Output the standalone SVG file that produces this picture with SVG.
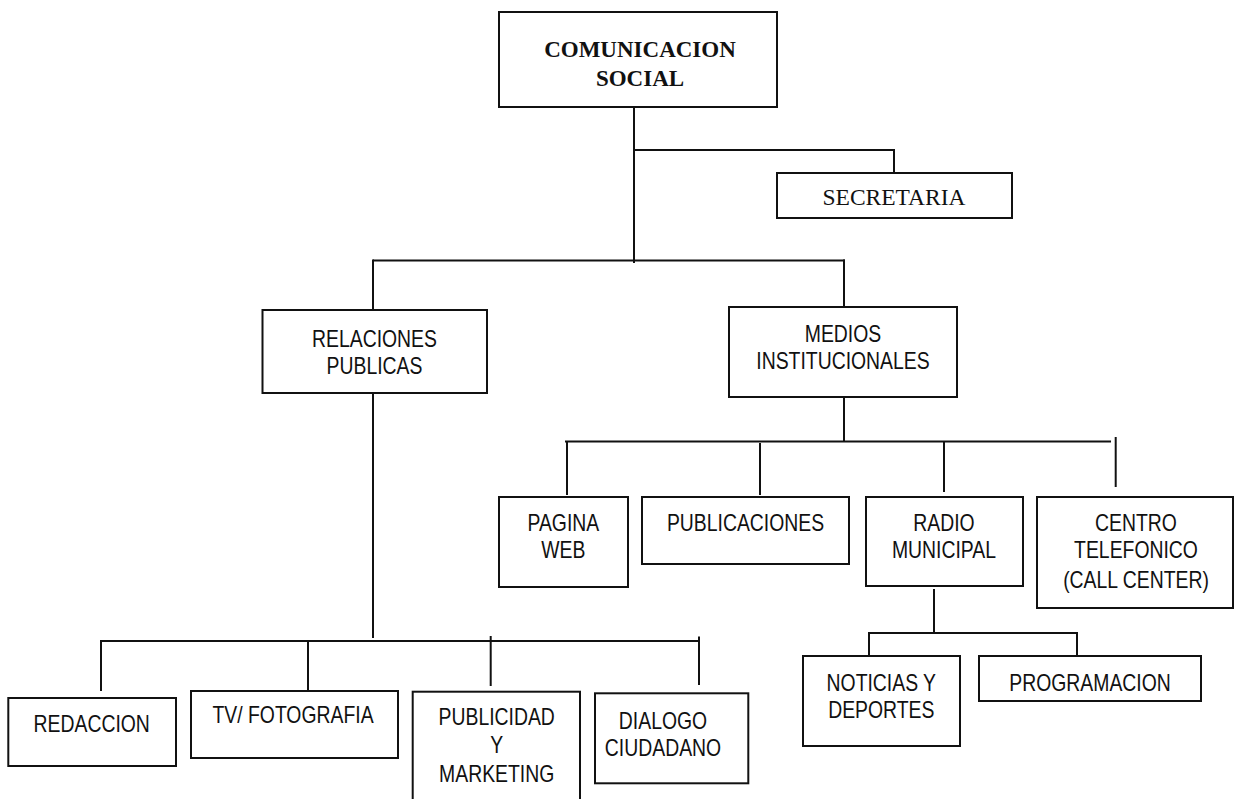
<svg xmlns="http://www.w3.org/2000/svg" width="1235" height="799" viewBox="0 0 1235 799">
<style>
rect{fill:#fff;stroke:#111;stroke-width:2}
.c line{stroke:#111;stroke-width:2}
.n{font-family:"Liberation Sans",Arial,sans-serif;font-size:23.5px;fill:#111;text-anchor:middle}
.s{font-family:"Liberation Serif","Times New Roman",serif;font-size:23.5px;fill:#111;text-anchor:middle}
.b{font-family:"Liberation Serif","Times New Roman",serif;font-size:23px;font-weight:bold;fill:#111;text-anchor:middle}
</style>
<rect x="0" y="0" width="1235" height="799" style="fill:#fff;stroke:none"/>
<g class="c" id="connectors">
<line x1="634" y1="107" x2="634" y2="263"/>
<line x1="634" y1="150" x2="894" y2="150"/>
<line x1="894" y1="149" x2="894" y2="173"/>
<line x1="373" y1="260.5" x2="845" y2="260.5"/>
<line x1="373" y1="259.5" x2="373" y2="310"/>
<line x1="844" y1="259.5" x2="844" y2="307"/>
<line x1="373" y1="393" x2="373" y2="638"/>
<line x1="100" y1="641" x2="700" y2="641"/>
<line x1="101" y1="640" x2="101" y2="691"/>
<line x1="308" y1="640" x2="308" y2="690"/>
<line x1="490.7" y1="636" x2="490.7" y2="686"/>
<line x1="699" y1="636.5" x2="699" y2="685"/>
<line x1="844" y1="397" x2="844" y2="442"/>
<line x1="565" y1="441.5" x2="1111" y2="441.5"/>
<line x1="567" y1="441" x2="567" y2="495"/>
<line x1="760" y1="443" x2="760" y2="495"/>
<line x1="944" y1="441" x2="944" y2="492"/>
<line x1="1115.7" y1="437" x2="1115.7" y2="487"/>
<line x1="934" y1="589" x2="934" y2="633"/>
<line x1="868" y1="633" x2="1078" y2="633"/>
<line x1="869" y1="632" x2="869" y2="656"/>
<line x1="1077" y1="632" x2="1077" y2="656"/>
</g>
<g id="comunicacion-social">
<rect x="499" y="12" width="278" height="95"/>
<text class="b" x="640" y="57">COMUNICACION</text>
<text class="b" x="640" y="86">SOCIAL</text>
</g>
<g id="secretaria">
<rect x="777" y="173" width="235" height="45"/>
<text class="s" x="894" y="205">SECRETARIA</text>
</g>
<g id="relaciones-publicas">
<rect x="262.5" y="310" width="224.5" height="83"/>
<text class="n" transform="translate(374.5,0) scale(0.825,1)" x="0" y="346.7">RELACIONES</text>
<text class="n" transform="translate(374.5,0) scale(0.825,1)" x="0" y="374">PUBLICAS</text>
</g>
<g id="medios-institucionales">
<rect x="729" y="307" width="228" height="90"/>
<text class="n" transform="translate(843,0) scale(0.825,1)" x="0" y="341.7">MEDIOS</text>
<text class="n" transform="translate(843,0) scale(0.825,1)" x="0" y="369.3">INSTITUCIONALES</text>
</g>
<g id="pagina-web">
<rect x="499" y="497" width="129" height="90"/>
<text class="n" transform="translate(563.3,0) scale(0.825,1)" x="0" y="530.7">PAGINA</text>
<text class="n" transform="translate(563.3,0) scale(0.825,1)" x="0" y="558">WEB</text>
</g>
<g id="publicaciones">
<rect x="642" y="497" width="207" height="67"/>
<text class="n" transform="translate(745.5,0) scale(0.825,1)" x="0" y="530.7">PUBLICACIONES</text>
</g>
<g id="radio-municipal">
<rect x="866" y="497" width="157" height="89"/>
<text class="n" transform="translate(944,0) scale(0.825,1)" x="0" y="530.7">RADIO</text>
<text class="n" transform="translate(944,0) scale(0.825,1)" x="0" y="558">MUNICIPAL</text>
</g>
<g id="centro-telefonico">
<rect x="1037" y="497" width="196" height="111"/>
<text class="n" transform="translate(1136,0) scale(0.825,1)" x="0" y="530.7">CENTRO</text>
<text class="n" transform="translate(1136,0) scale(0.825,1)" x="0" y="558.3">TELEFONICO</text>
<text class="n" transform="translate(1136,0) scale(0.825,1)" x="0" y="587.7">(CALL CENTER)</text>
</g>
<g id="noticias-deportes">
<rect x="803" y="656" width="157" height="90"/>
<text class="n" transform="translate(881.3,0) scale(0.825,1)" x="0" y="690.7">NOTICIAS Y</text>
<text class="n" transform="translate(881.3,0) scale(0.825,1)" x="0" y="718">DEPORTES</text>
</g>
<g id="programacion">
<rect x="979" y="656" width="222" height="45"/>
<text class="n" transform="translate(1090,0) scale(0.825,1)" x="0" y="690.7">PROGRAMACION</text>
</g>
<g id="redaccion">
<rect x="8.3" y="698" width="167.7" height="68"/>
<text class="n" transform="translate(91.7,0) scale(0.825,1)" x="0" y="731.7">REDACCION</text>
</g>
<g id="tv-fotografia">
<rect x="191" y="691" width="207" height="67"/>
<text class="n" transform="translate(293,0) scale(0.825,1)" x="0" y="723.3">TV/ FOTOGRAFIA</text>
</g>
<g id="publicidad-marketing">
<rect x="412.7" y="691.7" width="167.3" height="120"/>
<text class="n" transform="translate(496.7,0) scale(0.825,1)" x="0" y="725">PUBLICIDAD</text>
<text class="n" transform="translate(496.7,0) scale(0.825,1)" x="0" y="752.7">Y</text>
<text class="n" transform="translate(496.7,0) scale(0.825,1)" x="0" y="781.7">MARKETING</text>
</g>
<g id="dialogo-ciudadano">
<rect x="595" y="693.3" width="153.3" height="90"/>
<text class="n" transform="translate(663,0) scale(0.825,1)" x="0" y="729">DIALOGO</text>
<text class="n" transform="translate(663,0) scale(0.825,1)" x="0" y="756">CIUDADANO</text>
</g>
</svg>
